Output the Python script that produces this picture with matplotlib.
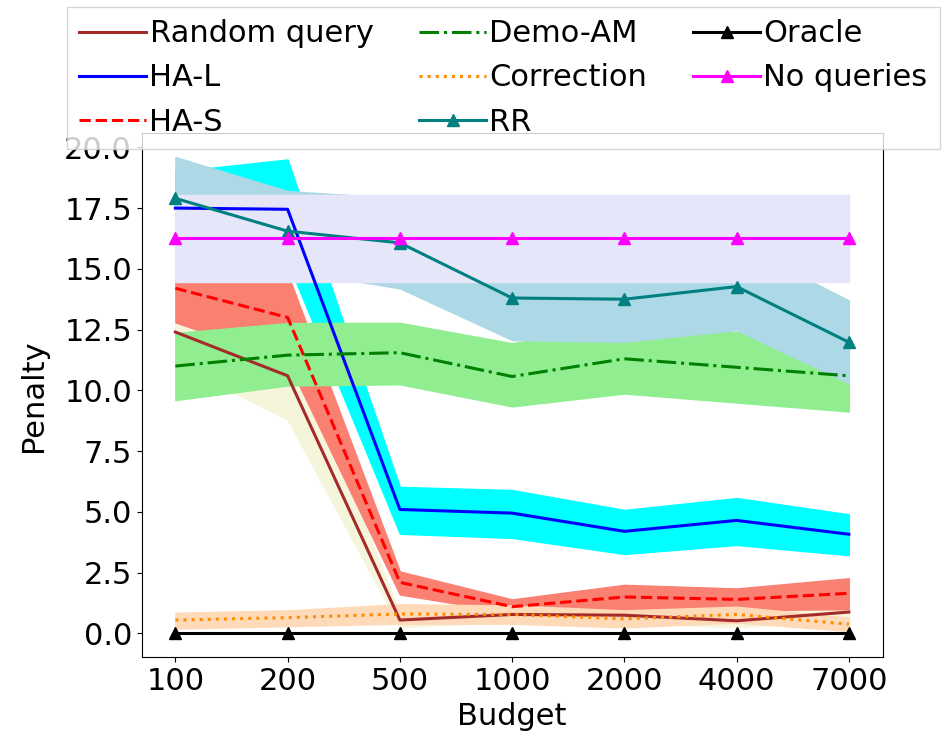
import numpy as np
import matplotlib.pyplot as plt
from matplotlib.ticker import MultipleLocator, FormatStrFormatter

budgets = ['100', '200', '500', '1000', '2000', '4000', '7000']

random_mean = [12.4, 10.6, 0.55, 0.78, 0.75, 0.52, 0.88]
random_lo = [11.1, 8.8, 0.25, 0.5, 0.45, 0.25, 0.6]
random_hi = [12.8, 12.4, 0.85, 1.05, 1.05, 0.8, 1.15]

hal_mean = [17.5, 17.45, 5.1, 4.95, 4.2, 4.65, 4.08]
hal_lo = [16.0, 15.3, 4.1, 3.93, 3.27, 3.64, 3.22]
hal_hi = [19.0, 19.5, 6.03, 5.9, 5.08, 5.57, 4.9]

has_mean = [14.2, 13.0, 2.1, 1.1, 1.5, 1.4, 1.65]
has_lo = [12.8, 11.2, 1.6, 0.85, 0.9, 0.95, 1.0]
has_hi = [15.6, 14.8, 2.55, 1.4, 2.0, 1.85, 2.27]

demo_mean = [11.0, 11.45, 11.55, 10.57, 11.3, 10.95, 10.6]
demo_lo = [9.6, 10.2, 10.25, 9.34, 9.87, 9.5, 9.13]
demo_hi = [12.36, 12.77, 12.78, 11.94, 12.7, 12.4, 12.07]

corr_mean = [0.55, 0.65, 0.8, 0.78, 0.6, 0.78, 0.38]
corr_lo = [0.2, 0.3, 0.4, 0.4, 0.25, 0.45, 0.1]
corr_hi = [0.85, 0.95, 1.2, 1.15, 0.95, 1.1, 0.65]

oracle_mean = [0, 0, 0, 0, 0, 0, 0]

noq_mean = [16.25, 16.25, 16.25, 16.25, 16.25, 16.25, 16.25]
noq_lo = [14.45, 14.45, 14.45, 14.45, 14.45, 14.45, 14.45]
noq_hi = [18.05, 18.05, 18.05, 18.05, 18.05, 18.05, 18.05]

rr_mean = [17.9, 16.55, 16.07, 13.8, 13.75, 14.27, 11.98]
rr_lo = [16.2, 14.95, 14.2, 12.07, 12.0, 12.48, 10.3]
rr_hi = [19.6, 18.2, 17.9, 15.5, 15.45, 16.06, 13.7]

plt.rcParams['font.size'] = 22

fig = plt.figure(figsize=(9.51, 7.36), dpi=100)
ax = fig.add_axes([0.149, 0.107, 0.779, 0.712])

x = np.arange(len(budgets))
lw = 2.2
handles = {}

handles['Random query'], = ax.plot(x, random_mean, color='brown', lw=lw)
ax.fill_between(x, random_lo, random_hi, color='beige')

handles['HA-L'], = ax.plot(x, hal_mean, color='blue', lw=lw)
ax.fill_between(x, hal_lo, hal_hi, color='cyan')

handles['HA-S'], = ax.plot(x, has_mean, color='red', ls='--', lw=lw)
ax.fill_between(x, has_lo, has_hi, color='salmon')

handles['Demo-AM'], = ax.plot(x, demo_mean, color='green', ls='-.', lw=lw)
ax.fill_between(x, demo_lo, demo_hi, color='lightgreen')

handles['Correction'], = ax.plot(x, corr_mean, color='darkorange', ls=':', lw=lw)
ax.fill_between(x, corr_lo, corr_hi, color='peachpuff')

handles['Oracle'], = ax.plot(x, oracle_mean, color='black', marker='^', ms=9, lw=lw)

handles['RR'], = ax.plot(x, rr_mean, color='teal', marker='^', ms=9, lw=lw)
ax.fill_between(x, rr_lo, rr_hi, color='lightblue')

handles['No queries'], = ax.plot(x, noq_mean, color='magenta', marker='^', ms=9, lw=lw)
ax.fill_between(x, noq_lo, noq_hi, color='lavender')

ax.set_xticks(x)
ax.set_xticklabels(budgets)
ax.yaxis.set_major_locator(MultipleLocator(2.5))
ax.yaxis.set_major_formatter(FormatStrFormatter('%.1f'))
ax.set_xlabel('Budget')
ax.set_ylabel('Penalty', labelpad=12)

order = ['Random query', 'HA-L', 'HA-S', 'Demo-AM', 'Correction', 'RR',
         'Oracle', 'No queries']
ax.legend([handles[k] for k in order], order, ncol=3, loc='upper left',
          bbox_to_anchor=(67 / 951, 1 - 7 / 736), bbox_transform=fig.transFigure,
          handlelength=2.2, handletextpad=0.1, columnspacing=1.5,
          borderaxespad=0, fancybox=False)

fig.savefig('out.png', dpi=100)
